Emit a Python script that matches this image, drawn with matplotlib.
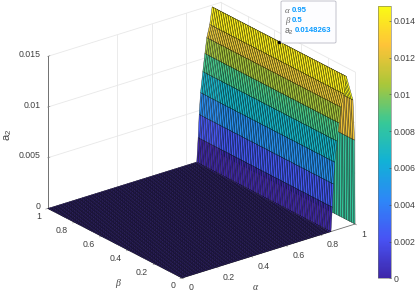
"""Surface of a2 over alpha and beta, with a datatip and a parula colorbar."""
import matplotlib
matplotlib.use("Agg")
import matplotlib.pyplot as plt
import numpy as np
from matplotlib.cm import ScalarMappable
from matplotlib.colors import LinearSegmentedColormap, Normalize
from matplotlib.patches import FancyBboxPatch
from mpl_toolkits.mplot3d import proj3d

plt.rcParams["font.family"] = ["Liberation Sans", "DejaVu Sans"]
plt.rcParams["mathtext.fontset"] = "custom"
plt.rcParams["mathtext.rm"] = "Liberation Sans"
plt.rcParams["mathtext.default"] = "rm"

profile_alpha = [0.861, 0.869, 0.875, 0.883, 0.896, 0.908, 0.919, 0.936, 0.95, 0.988, 0.997, 1.0]
profile_a2 = [0.0, 0.00237, 0.00462, 0.00673, 0.00874, 0.01046, 0.01196, 0.01317, 0.0148263, 0.0123, 0.0083, 0.0]
# colour value of the band that starts at each profile row (last row has no band)
band_color = [0.0, 0.00237, 0.00462, 0.00673, 0.00874, 0.01046, 0.01196, 0.0143, 0.0148263, 0.0123, 0.0083]
plain_alpha = np.linspace(0, 0.85, 125)
beta = np.linspace(0, 1, 81)

alpha_ticks = [0, 0.2, 0.4, 0.6, 0.8, 1]
beta_ticks = [0, 0.2, 0.4, 0.6, 0.8, 1]
z_ticks = [0, 0.005, 0.01, 0.015]
cbar_ticks = [0, 0.002, 0.004, 0.006, 0.008, 0.01, 0.012, 0.014]
tip_alpha, tip_beta, tip_a2 = 0.95, 0.5, 0.0148263

parula = LinearSegmentedColormap.from_list("parula", [
    (0.2422, 0.1504, 0.6603), (0.2810, 0.3228, 0.9579), (0.1786, 0.5289, 0.9682),
    (0.0689, 0.6948, 0.8394), (0.2161, 0.7843, 0.5923), (0.6720, 0.7793, 0.2227),
    (0.9970, 0.7659, 0.2199), (0.9769, 0.9839, 0.0805),
])
norm = Normalize(0, tip_a2)
W, H = 415, 293
ink = "#404040"

alpha = np.concatenate([plain_alpha, profile_alpha])
a2_by_alpha = np.concatenate([np.zeros(len(plain_alpha)), profile_a2])
A, B = np.meshgrid(alpha, beta, indexing="ij")
Z = np.repeat(a2_by_alpha[:, None], len(beta), axis=1)
# flat shading: one colour per row of faces
row_color = np.concatenate([np.zeros(len(plain_alpha)), band_color])
faces = parula(norm(np.repeat(row_color[:, None], len(beta) - 1, axis=1)))

fig = plt.figure(figsize=(W / 100, H / 100), dpi=100)
ax = fig.add_axes([0, 0, 1, 1], projection="3d", computed_zorder=False)
ax.set_proj_type("ortho")
ax.view_init(elev=23.7, azim=232.2)
ax.set_box_aspect((1, 1, 166 / 218.8))
ax.set_xlim(0, 1, view_margin=0)
ax.set_ylim(0, 1, view_margin=0)
ax.set_zlim(0, 0.015, view_margin=0)
ax.set_axis_off()
ax.patch.set_alpha(0)


def to_px(a, b, z):
    xs, ys, _ = proj3d.proj_transform(a, b, z, ax.get_proj())
    x, y = ax.transData.transform((xs, ys))
    return x, H - y


# fit the box to where its corners sit in the picture
size = 300.0
cx, cy = 200.0, 150.0
for _ in range(3):
    ax.set_position([(cx - size / 2) / W, 1 - (cy + size / 2) / H, size / W, size / H])
    ax.apply_aspect()
    x0, y0 = to_px(0, 0, 0)
    x1, y1 = to_px(1, 0, 0)
    size *= 173 / (x1 - x0)
    ax.set_position([(cx - size / 2) / W, 1 - (cy + size / 2) / H, size / W, size / H])
    ax.apply_aspect()
    x0, y0 = to_px(0, 0, 0)
    cx += 182 - x0
    cy += 278 - y0

grid = "#e8e8e8"
for t in alpha_ticks[2:]:
    ax.plot([t, t], [1, 1], [0, 0.015], color=grid, lw=0.6, zorder=1)
for t in beta_ticks[:-1]:
    ax.plot([1, 1], [t, t], [0, 0.015], color=grid, lw=0.6, zorder=1)
for t in z_ticks[1:]:
    ax.plot([0, 1], [1, 1], [t, t], color=grid, lw=0.6, zorder=1)
    ax.plot([1, 1], [0, 1], [t, t], color=grid, lw=0.6, zorder=1)
ax.plot([0, 0], [1, 1], [0, 0.015], color="#707070", lw=0.7, zorder=1)
ax.plot([0, 1], [0, 0], [0, 0], color="#707070", lw=0.6, zorder=1)
ax.plot([0, 0], [0, 1], [0, 0], color="#707070", lw=0.6, zorder=1)
for t in z_ticks:
    ax.plot([0, 0.012], [1, 1], [t, t], color="#808080", lw=0.4, zorder=1)
for t in alpha_ticks:
    ax.plot([t, t], [0, -0.012], [0, 0], color="#808080", lw=0.4, zorder=1)
for t in beta_ticks:
    ax.plot([0, -0.012], [t, t], [0, 0], color="#808080", lw=0.4, zorder=1)

ax.plot_surface(A, B, Z, facecolors=faces, rstride=1, cstride=1, shade=False,
                edgecolor=(0, 0, 0, 0.85), linewidth=0.28, zorder=2)
ax.plot([tip_alpha], [tip_beta], [tip_a2], "o", color="black", ms=1.5, zorder=4)


def label(x, y, text, **kw):
    kw.setdefault("fontsize", 6.3)
    kw.setdefault("color", ink)
    fig.text(x / W, 1 - y / H, text, **kw)


for t in alpha_ticks:
    x, y = to_px(t, 0, 0)
    label(x + 6.5, y + 10, f"{t:g}", ha="left", va="center")
for t in beta_ticks:
    x, y = to_px(0, t, 0)
    label(x - 7, y + 8, f"{t:g}", ha="right", va="center")
for t in z_ticks:
    x, y = to_px(0, 1, t)
    label(x - 7, y - 2, f"{t:g}", ha="right", va="center")

label(8, 135, "a$_2$", fontsize=8, rotation=90, ha="center", va="center")
label(255, 288, "α", family="Liberation Serif", style="italic", fontsize=7, ha="center", va="center")
label(118, 283, "β", family="Liberation Serif", style="italic", fontsize=7, ha="center", va="center")

# datatip
fig.add_artist(FancyBboxPatch((281 / W, 1 - 43 / H), 55 / W, 42 / H,
                              boxstyle="round,pad=0,rounding_size=0.004", transform=fig.transFigure,
                              facecolor="#fdfdff", edgecolor="#b9b9c4", lw=0.6, zorder=5))
tip_blue = "#0a9bff"
label(285, 11, "α", family="Liberation Serif", style="italic", color="#666666", ha="left", va="center", zorder=6)
label(292, 11, f"{tip_alpha:g}", color=tip_blue, fontweight="bold", fontsize=5.6, ha="left", va="center", zorder=6)
label(285, 21, "β", family="Liberation Serif", style="italic", color="#666666", ha="left", va="center", zorder=6)
label(292, 21, f"{tip_beta:g}", color=tip_blue, fontweight="bold", fontsize=5.6, ha="left", va="center", zorder=6)
label(284.5, 31.5, "a$_2$", color="#666666", ha="left", va="center", zorder=6)
label(295, 31, f"{tip_a2:.7f}", color=tip_blue, fontweight="bold", fontsize=5.6, ha="left", va="center", zorder=6)

cax = fig.add_axes([377.7 / W, 1 - 278.3 / H, 12.9 / W, 272.7 / H])
cbar = fig.colorbar(ScalarMappable(norm=norm, cmap=parula), cax=cax)
cbar.set_ticks(cbar_ticks, labels=[f"{t:g}" for t in cbar_ticks])
cbar.ax.tick_params(labelsize=6.3, length=1.5, width=0.4, direction="in", pad=2, colors=ink)
cbar.outline.set_edgecolor("#707070")
cbar.outline.set_linewidth(0.4)

fig.savefig("out.png", dpi=100)
